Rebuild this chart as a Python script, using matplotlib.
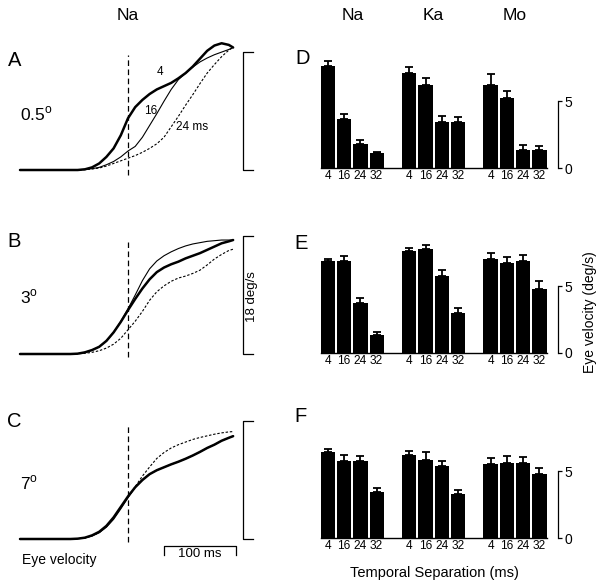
import matplotlib
matplotlib.use('Agg')
import matplotlib.pyplot as plt
import numpy as np

plt.rcParams['font.family'] = ['Liberation Sans', 'DejaVu Sans']

W, H = 602, 584

# --- eye velocity traces (t in ms re: dashed line, v in deg/s) ---
t_ms = [-150, -120, -100, -80, -70, -60, -50, -40, -30, -20, -10, 0, 10, 20, 30,
        40, 50, 60, 70, 80, 90, 100, 110, 120, 130, 140, 146]

a_4 = [0, 0, 0, 0, 0, 0.1, 0.4, 1.0, 2.0, 3.3, 5.3, 7.9, 9.6, 10.7, 11.6,
       12.3, 12.8, 13.3, 14.0, 14.8, 15.8, 17.0, 18.2, 19.0, 19.35, 19.1, 18.7]
a_16 = [0, 0, 0, 0, 0.05, 0.1, 0.2, 0.4, 0.8, 1.3, 2.0, 2.9, 3.6, 5.0, 6.8,
        8.6, 10.5, 12.3, 13.8, 14.8, 15.7, 16.5, 17.1, 17.6, 18.0, 18.4, 18.7]
a_24 = [0, 0, 0, 0, 0, 0.05, 0.15, 0.3, 0.6, 1.0, 1.4, 1.8, 2.2, 2.7, 3.3,
        4.0, 5.0, 6.6, 8.2, 9.9, 11.5, 13.2, 14.8, 16.1, 17.3, 18.3, 18.7]

b_4 = [0, 0, 0, 0, 0.05, 0.25, 0.6, 1.1, 2.0, 3.3, 4.9, 6.7, 8.4, 10.0, 11.4,
       12.5, 13.2, 13.7, 14.1, 14.6, 15.0, 15.4, 15.9, 16.4, 16.9, 17.2, 17.4]
b_16 = [0, 0, 0, 0, 0.05, 0.25, 0.6, 1.1, 2.0, 3.3, 5.0, 6.9, 9.0, 11.2, 13.0,
        14.2, 15.0, 15.6, 16.1, 16.5, 16.8, 17.0, 17.2, 17.3, 17.4, 17.4, 17.4]
b_24 = [0, 0, 0, 0, 0.05, 0.1, 0.25, 0.5, 0.9, 1.5, 2.4, 3.7, 5.0, 6.5, 8.2,
        9.5, 10.4, 11.1, 11.6, 11.9, 12.3, 12.8, 13.6, 14.5, 15.2, 15.8, 16.0]

c_4 = [0, 0, 0, 0, 0.05, 0.2, 0.55, 1.1, 2.0, 3.3, 4.9, 6.5, 7.9, 9.0, 9.9,
       10.5, 10.95, 11.4, 11.8, 12.25, 12.75, 13.3, 13.9, 14.4, 15.0, 15.45, 15.7]
c_16 = [0, 0, 0, 0, 0.05, 0.15, 0.45, 0.95, 1.8, 3.0, 4.6, 6.3, 7.9, 9.1, 9.9,
        10.5, 10.95, 11.4, 11.8, 12.25, 12.75, 13.3, 13.9, 14.4, 15.0, 15.45, 15.7]
c_24 = [0, 0, 0, 0, 0.05, 0.15, 0.5, 1.0, 1.9, 3.2, 4.8, 6.4, 8.0, 9.6, 11.0,
        12.3, 13.2, 13.9, 14.4, 14.8, 15.2, 15.5, 15.75, 16.0, 16.2, 16.35, 16.4]

# --- bar data: Na, Ka, Mo x (4, 16, 24, 32 ms) ---
monkeys = ['Na', 'Ka', 'Mo']
separations = ['4', '16', '24', '32']

d_mean = [7.64, 3.69, 1.81, 1.10, 7.14, 6.23, 3.44, 3.44, 6.23, 5.25, 1.38, 1.38]
d_sem = [0.36, 0.36, 0.25, 0.13, 0.45, 0.50, 0.43, 0.38, 0.78, 0.50, 0.35, 0.30]
e_mean = [6.87, 6.92, 3.73, 1.34, 7.61, 7.79, 5.75, 2.96, 7.01, 6.74, 6.87, 4.83]
e_sem = [0.19, 0.32, 0.40, 0.20, 0.28, 0.29, 0.49, 0.40, 0.50, 0.42, 0.44, 0.59]
f_mean = [6.42, 5.80, 5.80, 3.41, 6.19, 5.87, 5.37, 3.31, 5.55, 5.65, 5.62, 4.83]
f_sem = [0.22, 0.39, 0.37, 0.30, 0.30, 0.57, 0.38, 0.27, 0.47, 0.49, 0.47, 0.39]


def px_axes(fig, left, top, right, bottom):
    return fig.add_axes([left / W, 1 - bottom / H, (right - left) / W, (bottom - top) / H])


def fig_text(fig, x, y, s, **kw):
    fig.text(x / W, 1 - y / H, s, **kw)


def trace_panel(ax, v4, v16, v24, dash_lo, dash_hi):
    ax.plot(t_ms, v4, color='black', lw=1.8, solid_capstyle='round', zorder=3)
    ax.plot(t_ms, v16, color='black', lw=0.8, zorder=2)
    ax.plot(t_ms, v24, color='black', lw=0.8, ls=(0, (2.2, 1.6)), zorder=2)
    ax.plot([0, 0], [dash_lo, dash_hi], color='black', lw=0.9, ls=(0, (4.5, 2.8)))
    # 18 deg/s bracket
    ax.plot([174, 160, 160, 174], [18, 18, 0, 0], color='black', lw=0.9)
    ax.set_xlim(-160, 180)
    ax.set_ylim(-4, 21)
    ax.axis('off')


def bar_panel(ax, means, sems):
    x = np.concatenate([np.arange(4) + 5 * i for i in range(3)])
    zeros = np.zeros(len(sems))
    ax.bar(x, means, width=0.88, color='black', edgecolor='none',
           yerr=[zeros, sems], capsize=2.6,
           error_kw=dict(ecolor='black', elinewidth=1.3, capthick=1.3))
    ax.set_xlim(-0.5, 14.14)
    ax.set_ylim(0, 8.8)
    for side in ['top', 'left']:
        ax.spines[side].set_visible(False)
    ax.spines['right'].set_bounds(0, 5)
    ax.spines['right'].set_linewidth(0.9)
    ax.spines['bottom'].set_bounds(-0.45, 13.45)
    ax.spines['bottom'].set_linewidth(1.0)
    ax.yaxis.tick_right()
    ax.set_yticks([0, 5])
    ax.tick_params(axis='y', direction='out', length=3, width=0.9, labelsize=10, pad=1.5)
    ax.set_xticks(x)
    ax.set_xticklabels(separations * 3)
    ax.tick_params(axis='x', length=0, labelsize=8.6, pad=1.2)


fig = plt.figure(figsize=(W / 100, H / 100), dpi=100)

ax_a = px_axes(fig, 12.8, 32.45, 257.6, 196.2)
ax_b = px_axes(fig, 12.8, 216.45, 257.6, 380.2)
ax_c = px_axes(fig, 12.8, 401.45, 257.6, 565.2)
trace_panel(ax_a, a_4, a_16, a_24, -0.8, 17.5)
trace_panel(ax_b, b_4, b_16, b_24, -0.5, 17.1)
trace_panel(ax_c, c_4, c_16, c_24, -0.4, 17.4)

# 100 ms time scale under panel C
ax_c.plot([50, 50, 150, 150], [-2.45, -1.07, -1.07, -2.45], color='black', lw=0.9)

ax_d = px_axes(fig, 319.7, 50.5, 558, 168)
ax_e = px_axes(fig, 319.7, 235.5, 558, 353)
ax_f = px_axes(fig, 319.7, 420.5, 558, 538)
bar_panel(ax_d, d_mean, d_sem)
bar_panel(ax_e, e_mean, e_sem)
bar_panel(ax_f, f_mean, f_sem)

# titles
fig_text(fig, 128, 15, 'Na', fontsize=12.5, ha='center', va='center')
for name, xc in zip(monkeys, [353, 433, 515]):
    fig_text(fig, xc, 15, name, fontsize=12.5, ha='center', va='center')

# panel letters
for letter, xc, yc in [('A', 14.5, 60), ('B', 14.5, 241.5), ('C', 14.5, 421.5),
                       ('D', 302.5, 58.5), ('E', 301.5, 243.5), ('F', 300, 416.5)]:
    fig_text(fig, xc, yc, letter, fontsize=14.5, ha='center', va='center')

# target speeds
for label, yb in [('0.5', 120), ('3', 303), ('7', 489)]:
    fig_text(fig, 20, yb, label + r'$^{\mathregular{o}}$', fontsize=12.5, ha='left', va='baseline')

# trace labels in A
fig_text(fig, 160, 72.3, '4', fontsize=8.5, ha='center', va='center')
fig_text(fig, 150.5, 111, '16', fontsize=8.5, ha='center', va='center')
fig_text(fig, 192, 126.5, '24 ms', fontsize=8.5, ha='center', va='center')

fig_text(fig, 252, 297, '18 deg/s', fontsize=9.5, rotation=90, ha='center', va='center')
fig_text(fig, 22, 560, 'Eye velocity', fontsize=10, ha='left', va='center')
fig_text(fig, 200, 554, '100 ms', fontsize=9.5, ha='center', va='center')
fig_text(fig, 590, 312, 'Eye velocity (deg/s)', fontsize=10, rotation=90, ha='center', va='center')
fig_text(fig, 434, 573, 'Temporal Separation (ms)', fontsize=10.5, ha='center', va='center')

fig.savefig('out.png', dpi=100)
